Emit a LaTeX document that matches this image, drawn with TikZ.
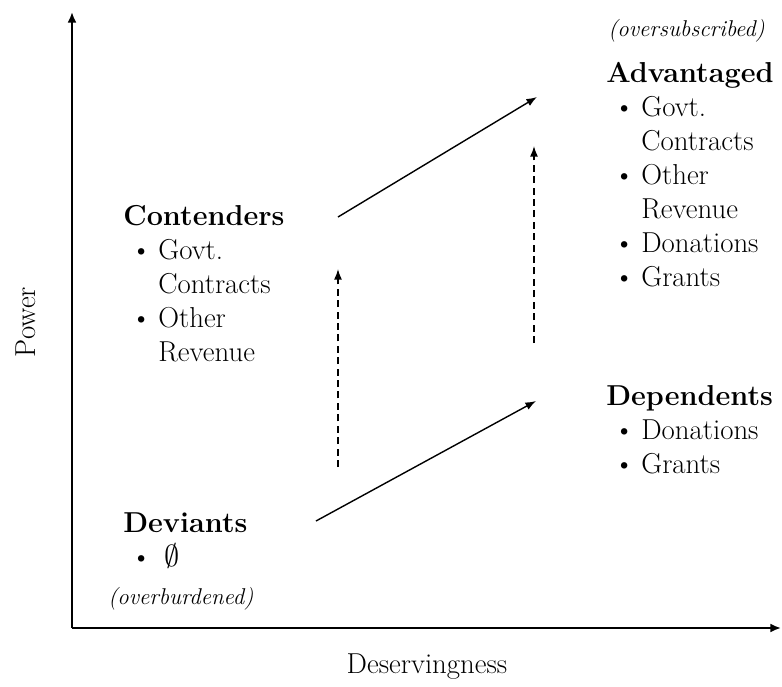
\documentclass[tikz,border=0pt]{standalone}
\usetikzlibrary{arrows.meta}

\newcommand{\itm}{\makebox[0.7cm][l]{\hspace{0.15cm}\textbullet}}
\newcommand{\ind}{\hspace*{0.7cm}}

\begin{document}
\begin{tikzpicture}[
    x=0.02cm, y=-0.02cm,
    group/.style={anchor=north west, inner sep=0pt, align=left, font=\fontsize{16.4}{19.35}\selectfont},
    remark/.style={anchor=base west, inner sep=0pt, font=\fontsize{13}{15}\selectfont\itshape},
    axislabel/.style={inner sep=0pt, font=\fontsize{16.4}{19.35}\selectfont},
    axis/.style={line width=1.1pt, -{Latex[length=6pt,width=5pt]}},
    move/.style={line width=0.8pt, -{Latex[length=6pt,width=4.5pt]}},
    rise/.style={move, dash pattern=on 4pt off 2.5pt}
]
    \useasboundingbox (0,0) rectangle (782,687);

    % Axes
    \coordinate (origin) at (72,628);
    \coordinate (ytop) at (72,12);
    \coordinate (xend) at (781,628);
    \draw[axis] (origin) -- (ytop);
    \draw[axis] (origin) -- (xend);

    \node[axislabel, rotate=90] (power) at (26,322) {Power};
    \node[axislabel] (deserving) at (427,667) {Deservingness};

    % Groups
    \node[remark] (oversub) at (608,36) {(oversubscribed)};
    \node[group] (advantaged) at (606,62) {\textbf{Advantaged}\\
        \itm Govt.\\ \ind Contracts\\ \itm Other\\ \ind Revenue\\
        \itm Donations\\ \itm Grants};

    \node[group] (contenders) at (123,205) {\textbf{Contenders}\\
        \itm Govt.\\ \ind Contracts\\ \itm Other\\ \ind Revenue};

    \node[group] (dependents) at (606,385) {\textbf{Dependents}\\
        \itm Donations\\ \itm Grants};

    \node[group] (deviants) at (123,512) {\textbf{Deviants}\\
        \itm\hspace{0.12cm}$\emptyset$};
    \node[remark] (overburd) at (108,604) {(overburdened)};

    % Movements
    \coordinate (upA) at (338,217);
    \coordinate (upB) at (537,97);
    \coordinate (lowA) at (316,521);
    \coordinate (lowB) at (536,401);
    \coordinate (dashRA) at (534,343);
    \coordinate (dashRB) at (534,146);
    \coordinate (dashLA) at (338,467);
    \coordinate (dashLB) at (338,269);

    \draw[move] (upA) -- (upB);
    \draw[move] (lowA) -- (lowB);
    \draw[rise] (dashRA) -- (dashRB);
    \draw[rise] (dashLA) -- (dashLB);
\end{tikzpicture}
\end{document}
